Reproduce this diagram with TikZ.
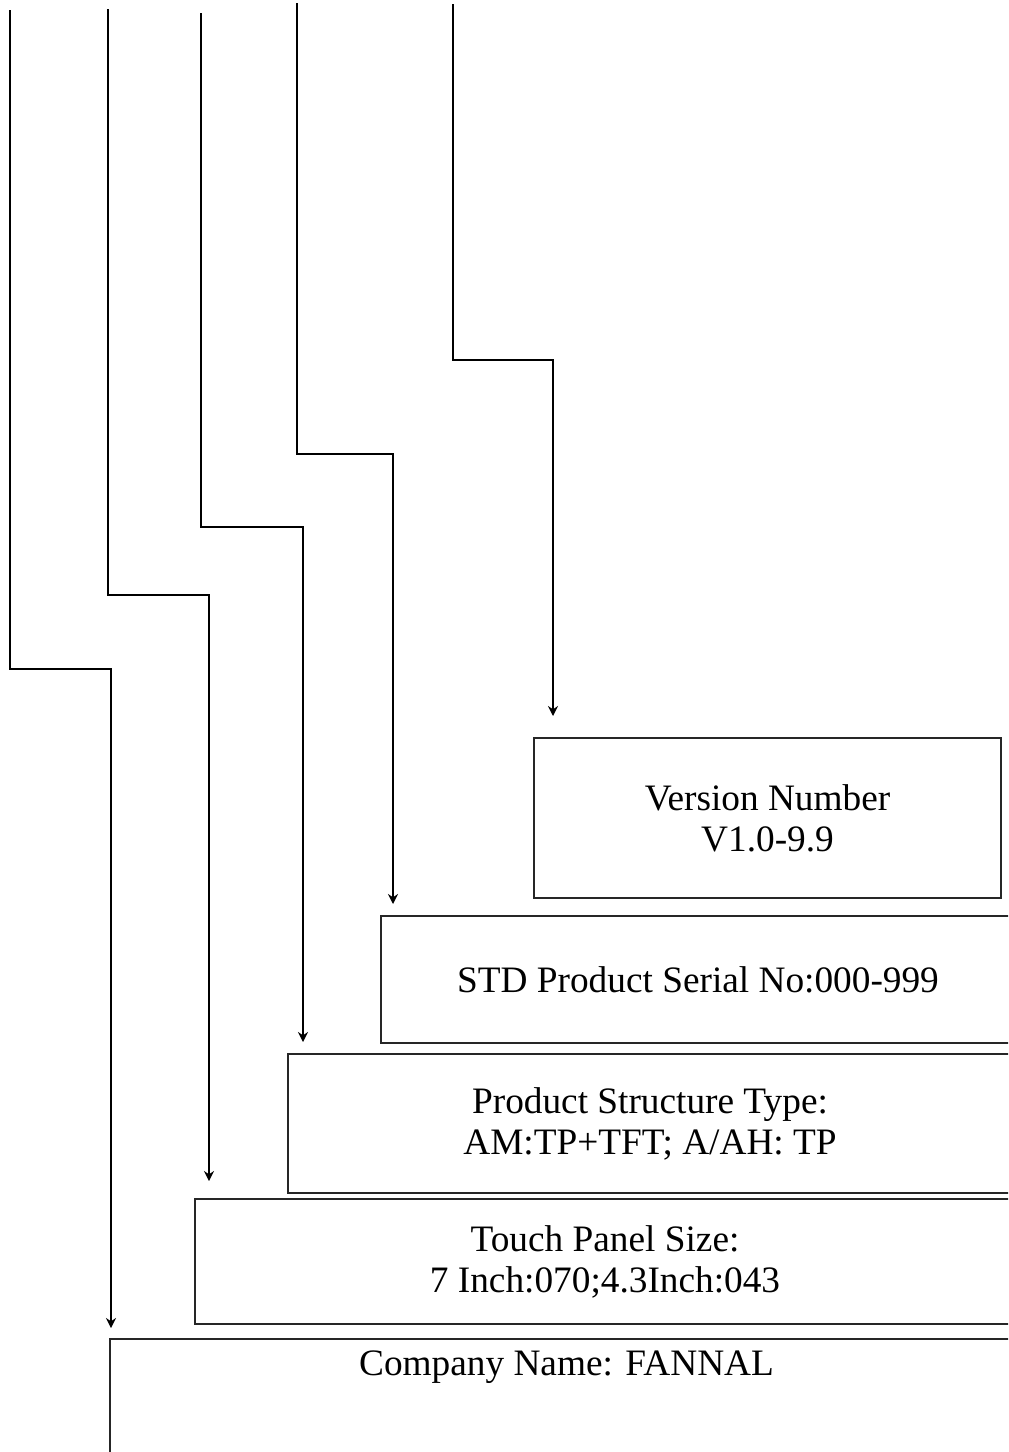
\documentclass[tikz,border=0pt]{standalone}
\usepackage{fontspec}
\setmainfont{Liberation Serif}
\usetikzlibrary{arrows.meta}
\tikzset{
  infobox/.style={draw=black!85, line width=1pt, rectangle, anchor=north west, inner sep=0pt,
    align=center, font=\fontsize{18.65}{20.5}\selectfont},
  conn/.style={draw=black, line width=1pt, -{Stealth[length=5pt,width=5pt]}}
}
\begin{document}
\begin{tikzpicture}[x=0.5pt,y=-0.5pt]
\useasboundingbox (0,0) rectangle (1008,1452);
\clip (0,0) rectangle (1008,1452);
% boxes
\node[infobox, minimum width=233.5pt, minimum height=80pt] (ver) at (533,737) {Version Number\\V1.0-9.9};
\node[infobox, minimum width=317pt, minimum height=63.5pt] (std) at (380,915) {STD Product Serial No:000-999};
\node[infobox, minimum width=362pt, minimum height=69.5pt] (pst) at (287,1053) {Product Structure Type:\\AM:TP+TFT; A/AH: TP};
\node[infobox, minimum width=410pt, minimum height=62.5pt] (tps) at (194,1198) {Touch Panel Size:\\7 Inch:070;4.3Inch:043};
\node[infobox, minimum width=456.5pt, inner ysep=6pt, text depth=80pt] (com) at (109,1338) {Company Name: FANNAL};
% connector start points and bends
\coordinate (t1) at (10,10);   \coordinate (k1) at (111,669);
\coordinate (t2) at (108,9);   \coordinate (k2) at (209,595);
\coordinate (t3) at (201,13);  \coordinate (k3) at (303,527);
\coordinate (t4) at (297,3);   \coordinate (k4) at (393,454);
\coordinate (t5) at (453,4);   \coordinate (k5) at (553,360);
% connectors
\draw[conn, shorten >=5pt] (t1) |- (k1) -- (k1 |- com.north);
\draw[conn, shorten >=8.5pt] (t2) |- (k2) -- (k2 |- tps.north);
\draw[conn, shorten >=5.5pt] (t3) |- (k3) -- (k3 |- pst.north);
\draw[conn, shorten >=5.5pt] (t4) |- (k4) -- (k4 |- std.north);
\draw[conn, shorten >=10.5pt] (t5) |- (k5) -- (k5 |- ver.north);
\end{tikzpicture}
\end{document}
